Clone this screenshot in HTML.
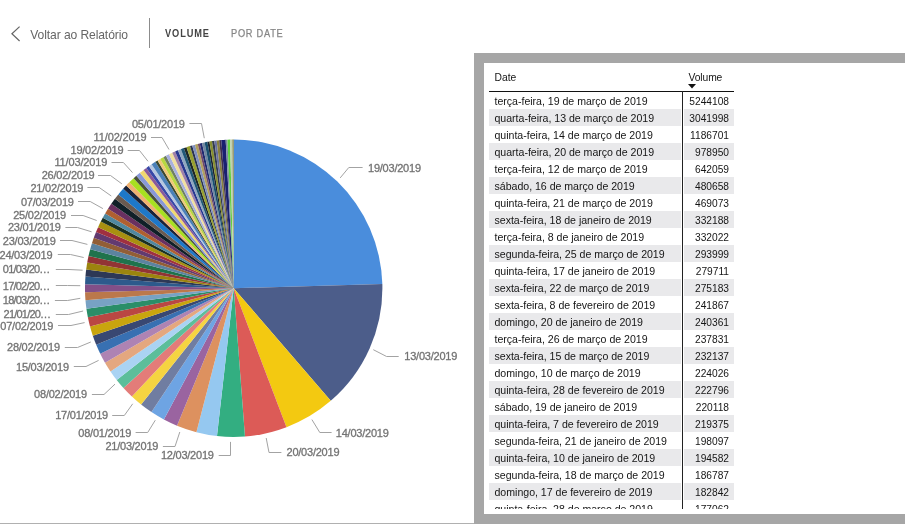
<!DOCTYPE html>
<html lang="pt-BR"><head><meta charset="utf-8"><title>Volume por Date</title>
<style>
html,body{margin:0;padding:0;background:#fff;}
body{width:905px;height:532px;overflow:hidden;position:relative;font-family:"Liberation Sans",sans-serif;}
#back{position:absolute;left:30.3px;top:25.7px;height:18px;line-height:18px;font-size:12.1px;color:#666;white-space:nowrap;letter-spacing:-0.1px;}
#chev{position:absolute;left:8px;top:22px;}
#div{position:absolute;left:149px;top:17.5px;width:1px;height:30px;background:#8c8c8c;}
#t1{position:absolute;left:165.3px;top:24.2px;height:18px;line-height:18px;font-size:10.5px;font-weight:bold;color:#444;letter-spacing:1.02px;white-space:nowrap;transform:scaleX(0.88);transform-origin:0 0;}
#t2{position:absolute;left:230.5px;top:24.2px;height:18px;line-height:18px;font-size:10.5px;color:#868686;-webkit-text-stroke:0.25px #868686;letter-spacing:0.85px;white-space:nowrap;transform:scaleX(0.88);transform-origin:0 0;}
#pie{position:absolute;left:0;top:0;}
#pie text{font-family:"Liberation Sans",sans-serif;font-size:11px;fill:#737373;stroke:#737373;stroke-width:0.3px;}
#frame{position:absolute;left:474px;top:53px;width:460px;height:470.5px;background:#a6a6a6;}
#inner{position:absolute;left:10px;top:10px;right:0;bottom:10px;background:#fff;overflow:hidden;}
#line{position:absolute;left:0;top:522.5px;width:474px;height:1px;background:#b0b0b0;}
#tbl{position:absolute;left:5px;top:0;width:245px;height:446px;overflow:hidden;font-size:10.6px;color:#151515;}
#hd{position:absolute;left:0;top:0;width:245px;height:28px;border-bottom:1px solid #111;}
#hd .d{position:absolute;left:5.5px;top:7.7px;line-height:14px;font-size:10.3px}
#hd .v{position:absolute;left:199.5px;top:7.7px;line-height:14px;font-size:10.3px;letter-spacing:-0.1px}
#arr{position:absolute;left:199.2px;top:20.8px;}
#vl{position:absolute;left:193px;top:28px;width:1px;height:420px;background:#222;}
.r{position:absolute;left:0;width:245px;height:17px;line-height:17px;white-space:nowrap;}
.r.s{background:linear-gradient(90deg,#e9e9eb 0,#e9e9eb 191.8px,#fff 191.8px,#fff 195.3px,#e9e9eb 195.3px);height:16.5px}
.r .d{position:absolute;left:5.5px;top:0.8px;letter-spacing:-0.02px}
.r .v{position:absolute;right:5px;top:0.8px;font-size:10.2px;}
</style></head><body>
<svg id="chev" width="16" height="24" viewBox="8 22 16 24"><polyline points="19.6,26.6 11.9,33.8 19.6,41" fill="none" stroke="#666" stroke-width="1.2"/></svg>
<div id="back">Voltar ao Relatório</div>
<div id="div"></div>
<div id="t1">VOLUME</div>
<div id="t2">POR DATE</div>
<svg id="pie" width="474" height="522" viewBox="0 0 474 522">
<g>
<path d="M233.70 288.20L233.70 139.50A148.7 148.7 0 0 1 382.34 284.05Z" fill="#4A8DDC"/>
<path d="M233.70 288.20L382.34 284.05A148.7 148.7 0 0 1 330.74 400.87Z" fill="#4C5D8A"/>
<path d="M233.70 288.20L330.74 400.87A148.7 148.7 0 0 1 286.49 427.21Z" fill="#F3C911"/>
<path d="M233.70 288.20L286.49 427.21A148.7 148.7 0 0 1 244.95 436.47Z" fill="#DC5B57"/>
<path d="M233.70 288.20L244.95 436.47A148.7 148.7 0 0 1 216.99 435.96Z" fill="#33AE81"/>
<path d="M233.70 288.20L216.99 435.96A148.7 148.7 0 0 1 196.40 432.14Z" fill="#95C8F0"/>
<path d="M233.70 288.20L196.40 432.14A148.7 148.7 0 0 1 177.00 425.67Z" fill="#DD915F"/>
<path d="M233.70 288.20L177.00 425.67A148.7 148.7 0 0 1 163.90 419.50Z" fill="#9A64A0"/>
<path d="M233.70 288.20L163.90 419.50A148.7 148.7 0 0 1 151.46 412.09Z" fill="#6EA4E3"/>
<path d="M233.70 288.20L151.46 412.09A148.7 148.7 0 0 1 141.10 404.55Z" fill="#707DA1"/>
<path d="M233.70 288.20L141.10 404.55A148.7 148.7 0 0 1 131.87 396.57Z" fill="#F5D441"/>
<path d="M233.70 288.20L131.87 396.57A148.7 148.7 0 0 1 123.47 388.00Z" fill="#E37C79"/>
<path d="M233.70 288.20L123.47 388.00A148.7 148.7 0 0 1 116.67 379.94Z" fill="#5CBE9A"/>
<path d="M233.70 288.20L116.67 379.94A148.7 148.7 0 0 1 110.50 371.46Z" fill="#AAD3F3"/>
<path d="M233.70 288.20L110.50 371.46A148.7 148.7 0 0 1 104.99 362.67Z" fill="#E4A77F"/>
<path d="M233.70 288.20L104.99 362.67A148.7 148.7 0 0 1 100.22 353.74Z" fill="#AE83B3"/>
<path d="M233.70 288.20L100.22 353.74A148.7 148.7 0 0 1 96.21 344.84Z" fill="#3870B2"/>
<path d="M233.70 288.20L96.21 344.84A148.7 148.7 0 0 1 92.80 335.74Z" fill="#394872"/>
<path d="M233.70 288.20L92.80 335.74A148.7 148.7 0 0 1 90.03 326.55Z" fill="#C9A50E"/>
<path d="M233.70 288.20L90.03 326.55A148.7 148.7 0 0 1 87.86 317.23Z" fill="#BA4743"/>
<path d="M233.70 288.20L87.86 317.23A148.7 148.7 0 0 1 86.42 308.71Z" fill="#2A8E68"/>
<path d="M233.70 288.20L86.42 308.71A148.7 148.7 0 0 1 85.49 300.28Z" fill="#78A2C4"/>
<path d="M233.70 288.20L85.49 300.28A148.7 148.7 0 0 1 85.05 292.14Z" fill="#BB784B"/>
<path d="M233.70 288.20L85.05 292.14A148.7 148.7 0 0 1 85.05 284.17Z" fill="#824F88"/>
<path d="M233.70 288.20L85.05 284.17A148.7 148.7 0 0 1 85.46 276.46Z" fill="#2D5A8C"/>
<path d="M233.70 288.20L85.46 276.46A148.7 148.7 0 0 1 86.17 269.56Z" fill="#2D3856"/>
<path d="M233.70 288.20L86.17 269.56A148.7 148.7 0 0 1 87.26 262.38Z" fill="#9C840E"/>
<path d="M233.70 288.20L87.26 262.38A148.7 148.7 0 0 1 88.52 256.02Z" fill="#923434"/>
<path d="M233.70 288.20L88.52 256.02A148.7 148.7 0 0 1 90.20 249.21Z" fill="#1F734C"/>
<path d="M233.70 288.20L90.20 249.21A148.7 148.7 0 0 1 91.96 243.24Z" fill="#5C83A0"/>
<path d="M233.70 288.20L91.96 243.24A148.7 148.7 0 0 1 93.79 237.83Z" fill="#925E36"/>
<path d="M233.70 288.20L93.79 237.83A148.7 148.7 0 0 1 96.02 232.02Z" fill="#623A70"/>
<path d="M233.70 288.20L96.02 232.02A148.7 148.7 0 0 1 98.07 227.24Z" fill="#A03040"/>
<path d="M233.70 288.20L98.07 227.24A148.7 148.7 0 0 1 100.74 221.62Z" fill="#A89010"/>
<path d="M233.70 288.20L100.74 221.62A148.7 148.7 0 0 1 102.77 217.70Z" fill="#1A3020"/>
<path d="M233.70 288.20L102.77 217.70A148.7 148.7 0 0 1 105.18 213.40Z" fill="#5088A0"/>
<path d="M233.70 288.20L105.18 213.40A148.7 148.7 0 0 1 108.01 208.74Z" fill="#B06030"/>
<path d="M233.70 288.20L108.01 208.74A148.7 148.7 0 0 1 111.30 203.76Z" fill="#6A3060"/>
<path d="M233.70 288.20L111.30 203.76A148.7 148.7 0 0 1 114.94 198.71Z" fill="#102028"/>
<path d="M233.70 288.20L114.94 198.71A148.7 148.7 0 0 1 118.30 194.42Z" fill="#6A5A50"/>
<path d="M233.70 288.20L118.30 194.42A148.7 148.7 0 0 1 123.19 188.70Z" fill="#1E78C8"/>
<path d="M233.70 288.20L123.19 188.70A148.7 148.7 0 0 1 126.19 185.47Z" fill="#1A2238"/>
<path d="M233.70 288.20L126.19 185.47A148.7 148.7 0 0 1 129.29 182.32Z" fill="#F0B070"/>
<path d="M233.70 288.20L129.29 182.32A148.7 148.7 0 0 1 133.62 178.22Z" fill="#A8E020"/>
<path d="M233.70 288.20L133.62 178.22A148.7 148.7 0 0 1 136.34 175.80Z" fill="#4A5238"/>
<path d="M233.70 288.20L136.34 175.80A148.7 148.7 0 0 1 139.92 172.80Z" fill="#8898D8"/>
<path d="M233.70 288.20L139.92 172.80A148.7 148.7 0 0 1 143.59 169.91Z" fill="#F0D870"/>
<path d="M233.70 288.20L143.59 169.91A148.7 148.7 0 0 1 146.30 167.90Z" fill="#8A5A9A"/>
<path d="M233.70 288.20L146.30 167.90A148.7 148.7 0 0 1 148.83 166.10Z" fill="#3848A8"/>
<path d="M233.70 288.20L148.83 166.10A148.7 148.7 0 0 1 151.63 164.20Z" fill="#B8C8E0"/>
<path d="M233.70 288.20L151.63 164.20A148.7 148.7 0 0 1 155.34 161.82Z" fill="#4A80B8"/>
<path d="M233.70 288.20L155.34 161.82A148.7 148.7 0 0 1 157.56 160.47Z" fill="#3A4830"/>
<path d="M233.70 288.20L157.56 160.47A148.7 148.7 0 0 1 160.25 158.91Z" fill="#F0C878"/>
<path d="M233.70 288.20L160.25 158.91A148.7 148.7 0 0 1 163.43 157.15Z" fill="#B8D840"/>
<path d="M233.70 288.20L163.43 157.15A148.7 148.7 0 0 1 165.96 155.83Z" fill="#708060"/>
<path d="M233.70 288.20L165.96 155.83A148.7 148.7 0 0 1 168.98 154.32Z" fill="#A8B0E0"/>
<path d="M233.70 288.20L168.98 154.32A148.7 148.7 0 0 1 172.27 152.78Z" fill="#F0E0A0"/>
<path d="M233.70 288.20L172.27 152.78A148.7 148.7 0 0 1 175.12 151.52Z" fill="#A080A8"/>
<path d="M233.70 288.20L175.12 151.52A148.7 148.7 0 0 1 178.00 150.33Z" fill="#283890"/>
<path d="M233.70 288.20L178.00 150.33A148.7 148.7 0 0 1 180.90 149.19Z" fill="#90A8C0"/>
<path d="M233.70 288.20L180.90 149.19A148.7 148.7 0 0 1 183.82 148.12Z" fill="#205878"/>
<path d="M233.70 288.20L183.82 148.12A148.7 148.7 0 0 1 186.52 147.18Z" fill="#1C2626"/>
<path d="M233.70 288.20L186.52 147.18A148.7 148.7 0 0 1 189.98 146.07Z" fill="#98A030"/>
<path d="M233.70 288.20L189.98 146.07A148.7 148.7 0 0 1 192.21 145.40Z" fill="#2A3350"/>
<path d="M233.70 288.20L192.21 145.40A148.7 148.7 0 0 1 194.96 144.63Z" fill="#8090C0"/>
<path d="M233.70 288.20L194.96 144.63A148.7 148.7 0 0 1 197.73 143.92Z" fill="#B0A060"/>
<path d="M233.70 288.20L197.73 143.92A148.7 148.7 0 0 1 199.74 143.43Z" fill="#704868"/>
<path d="M233.70 288.20L199.74 143.43A148.7 148.7 0 0 1 202.02 142.91Z" fill="#202870"/>
<path d="M233.70 288.20L202.02 142.91A148.7 148.7 0 0 1 204.56 142.38Z" fill="#7088A0"/>
<path d="M233.70 288.20L204.56 142.38A148.7 148.7 0 0 1 207.37 141.85Z" fill="#185070"/>
<path d="M233.70 288.20L207.37 141.85A148.7 148.7 0 0 1 209.41 141.50Z" fill="#1C2430"/>
<path d="M233.70 288.20L209.41 141.50A148.7 148.7 0 0 1 211.98 141.10Z" fill="#889030"/>
<path d="M233.70 288.20L211.98 141.10A148.7 148.7 0 0 1 214.29 140.77Z" fill="#343C4C"/>
<path d="M233.70 288.20L214.29 140.77A148.7 148.7 0 0 1 216.61 140.49Z" fill="#6870A0"/>
<path d="M233.70 288.20L216.61 140.49A148.7 148.7 0 0 1 219.19 140.21Z" fill="#888040"/>
<path d="M233.70 288.20L219.19 140.21A148.7 148.7 0 0 1 221.26 140.02Z" fill="#403050"/>
<path d="M233.70 288.20L221.26 140.02A148.7 148.7 0 0 1 225.66 139.72Z" fill="#1A2070"/>
<path d="M233.70 288.20L225.66 139.72A148.7 148.7 0 0 1 227.47 139.63Z" fill="#8090A0"/>
<path d="M233.70 288.20L227.47 139.63A148.7 148.7 0 0 1 230.07 139.54Z" fill="#60D040"/>
<path d="M233.70 288.20L230.07 139.54A148.7 148.7 0 0 1 232.40 139.51Z" fill="#C0D0B0"/>
<path d="M233.70 288.20L232.40 139.51A148.7 148.7 0 0 1 233.70 139.50Z" fill="#808040"/>
</g>
<g>
<polyline points="340.2,177.9 348.8,167.5 362.6,167.5" fill="none" stroke="#a3a3a3" stroke-width="1"/>
<text x="368.0" y="171.7" textLength="53.0" lengthAdjust="spacing">19/03/2019</text>
<polyline points="373.3,349.7 386.6,356.5 398.7,356.5" fill="none" stroke="#a3a3a3" stroke-width="1"/>
<text x="404.3" y="360.2" textLength="53.0" lengthAdjust="spacing">13/03/2019</text>
<polyline points="311.9,419.6 319.8,432.5 331.6,432.5" fill="none" stroke="#a3a3a3" stroke-width="1"/>
<text x="335.8" y="436.9" textLength="53.0" lengthAdjust="spacing">14/03/2019</text>
<polyline points="266.2,438.0 269.0,452.5 281.4,452.5" fill="none" stroke="#a3a3a3" stroke-width="1"/>
<text x="286.5" y="456.0" textLength="53.0" lengthAdjust="spacing">20/03/2019</text>
<polyline points="230.5,441.9 230.5,455.5 218.7,455.5" fill="none" stroke="#a3a3a3" stroke-width="1"/>
<text x="160.9" y="459.4" textLength="53.0" lengthAdjust="spacing">12/03/2019</text>
<polyline points="179.8,432.0 175.0,446.5 162.9,446.5" fill="none" stroke="#a3a3a3" stroke-width="1"/>
<text x="105.4" y="450.1" textLength="53.0" lengthAdjust="spacing">21/03/2019</text>
<polyline points="155.3,420.2 147.7,432.5 135.6,432.5" fill="none" stroke="#a3a3a3" stroke-width="1"/>
<text x="78.3" y="436.6" textLength="53.0" lengthAdjust="spacing">08/01/2019</text>
<polyline points="132.7,403.8 124.3,415.5 112.2,415.5" fill="none" stroke="#a3a3a3" stroke-width="1"/>
<text x="55.2" y="419.1" textLength="53.0" lengthAdjust="spacing">17/01/2019</text>
<polyline points="115.0,384.1 104.0,394.5 91.9,394.5" fill="none" stroke="#a3a3a3" stroke-width="1"/>
<text x="34.1" y="398.0" textLength="53.0" lengthAdjust="spacing">08/02/2019</text>
<polyline points="98.6,360.4 86.0,366.5 73.8,366.5" fill="none" stroke="#a3a3a3" stroke-width="1"/>
<text x="16.0" y="370.8" textLength="53.0" lengthAdjust="spacing">15/03/2019</text>
<polyline points="90.8,342.0 77.5,347.5 64.8,347.5" fill="none" stroke="#a3a3a3" stroke-width="1"/>
<text x="7.0" y="351.1" textLength="53.0" lengthAdjust="spacing">28/02/2019</text>
<polyline points="84.6,322.6 71.0,325.5 58.0,325.5" fill="none" stroke="#a3a3a3" stroke-width="1"/>
<text x="0.3" y="329.6" textLength="53.0" lengthAdjust="spacing">07/02/2019</text>
<polyline points="83.1,311.0 68.5,314.5 55.8,314.5" fill="none" stroke="#a3a3a3" stroke-width="1"/>
<text x="3.6" y="318.1" textLength="47.5" lengthAdjust="spacing">21/01/20…</text>
<polyline points="80.3,298.3 67.6,300.5 54.9,300.5" fill="none" stroke="#a3a3a3" stroke-width="1"/>
<text x="2.8" y="304.0" textLength="47.5" lengthAdjust="spacing">18/03/20…</text>
<polyline points="80.3,285.7 67.6,285.5 55.8,285.5" fill="none" stroke="#a3a3a3" stroke-width="1"/>
<text x="2.8" y="289.7" textLength="47.5" lengthAdjust="spacing">17/02/20…</text>
<polyline points="82.6,270.2 69.0,269.5 55.8,269.5" fill="none" stroke="#a3a3a3" stroke-width="1"/>
<text x="2.8" y="273.0" textLength="47.5" lengthAdjust="spacing">01/03/20…</text>
<polyline points="83.7,257.5 70.5,254.5 57.8,254.5" fill="none" stroke="#a3a3a3" stroke-width="1"/>
<text x="-0.5" y="258.9" textLength="53.0" lengthAdjust="spacing">24/03/2019</text>
<polyline points="87.4,244.4 72.0,240.5 60.0,240.5" fill="none" stroke="#a3a3a3" stroke-width="1"/>
<text x="2.8" y="244.8" textLength="53.0" lengthAdjust="spacing">23/03/2019</text>
<polyline points="91.6,231.8 77.5,227.5 65.4,227.5" fill="none" stroke="#a3a3a3" stroke-width="1"/>
<text x="7.9" y="231.0" textLength="53.0" lengthAdjust="spacing">23/01/2019</text>
<polyline points="96.7,220.5 83.1,215.5 71.0,215.5" fill="none" stroke="#a3a3a3" stroke-width="1"/>
<text x="13.2" y="219.1" textLength="53.0" lengthAdjust="spacing">25/02/2019</text>
<polyline points="102.9,208.6 90.2,201.5 78.0,201.5" fill="none" stroke="#a3a3a3" stroke-width="1"/>
<text x="20.9" y="205.9" textLength="53.0" lengthAdjust="spacing">07/03/2019</text>
<polyline points="111.3,196.0 99.2,187.5 87.4,187.5" fill="none" stroke="#a3a3a3" stroke-width="1"/>
<text x="30.4" y="191.5" textLength="53.0" lengthAdjust="spacing">21/02/2019</text>
<polyline points="121.8,183.8 110.5,175.5 98.0,175.5" fill="none" stroke="#a3a3a3" stroke-width="1"/>
<text x="41.7" y="179.1" textLength="53.0" lengthAdjust="spacing">26/02/2019</text>
<polyline points="132.5,172.6 123.4,162.5 111.5,162.5" fill="none" stroke="#a3a3a3" stroke-width="1"/>
<text x="54.4" y="166.1" textLength="53.0" lengthAdjust="spacing">11/03/2019</text>
<polyline points="148.0,161.3 139.5,150.5 127.7,150.5" fill="none" stroke="#a3a3a3" stroke-width="1"/>
<text x="70.5" y="154.3" textLength="53.0" lengthAdjust="spacing">19/02/2019</text>
<polyline points="169.0,149.5 162.0,137.5 151.0,137.5" fill="none" stroke="#a3a3a3" stroke-width="1"/>
<text x="93.6" y="141.0" textLength="53.0" lengthAdjust="spacing">11/02/2019</text>
<polyline points="204.3,138.2 201.5,123.5 189.4,123.5" fill="none" stroke="#a3a3a3" stroke-width="1"/>
<text x="131.9" y="127.5" textLength="53.0" lengthAdjust="spacing">05/01/2019</text>
</g>
</svg>
<div id="line"></div>
<div id="frame"><div id="inner">
<div id="tbl">
<div id="hd"><span class="d">Date</span><span class="v">Volume</span><svg id="arr" width="9" height="5" viewBox="0 0 9 5"><polygon points="0,0 8,0 4,4.4" fill="#111"/></svg></div>
<div style="top:29.2px" class="r"><span class="d">terça-feira, 19 de março de 2019</span><span class="v">5244108</span></div>
<div style="top:46.2px" class="r s"><span class="d">quarta-feira, 13 de março de 2019</span><span class="v">3041998</span></div>
<div style="top:63.2px" class="r"><span class="d">quinta-feira, 14 de março de 2019</span><span class="v">1186701</span></div>
<div style="top:80.2px" class="r s"><span class="d">quarta-feira, 20 de março de 2019</span><span class="v">978950</span></div>
<div style="top:97.2px" class="r"><span class="d">terça-feira, 12 de março de 2019</span><span class="v">642059</span></div>
<div style="top:114.2px" class="r s"><span class="d">sábado, 16 de março de 2019</span><span class="v">480658</span></div>
<div style="top:131.2px" class="r"><span class="d">quinta-feira, 21 de março de 2019</span><span class="v">469073</span></div>
<div style="top:148.2px" class="r s"><span class="d">sexta-feira, 18 de janeiro de 2019</span><span class="v">332188</span></div>
<div style="top:165.2px" class="r"><span class="d">terça-feira, 8 de janeiro de 2019</span><span class="v">332022</span></div>
<div style="top:182.2px" class="r s"><span class="d">segunda-feira, 25 de março de 2019</span><span class="v">293999</span></div>
<div style="top:199.2px" class="r"><span class="d">quinta-feira, 17 de janeiro de 2019</span><span class="v">279711</span></div>
<div style="top:216.2px" class="r s"><span class="d">sexta-feira, 22 de março de 2019</span><span class="v">275183</span></div>
<div style="top:233.2px" class="r"><span class="d">sexta-feira, 8 de fevereiro de 2019</span><span class="v">241867</span></div>
<div style="top:250.2px" class="r s"><span class="d">domingo, 20 de janeiro de 2019</span><span class="v">240361</span></div>
<div style="top:267.2px" class="r"><span class="d">terça-feira, 26 de março de 2019</span><span class="v">237831</span></div>
<div style="top:284.2px" class="r s"><span class="d">sexta-feira, 15 de março de 2019</span><span class="v">232137</span></div>
<div style="top:301.2px" class="r"><span class="d">domingo, 10 de março de 2019</span><span class="v">224026</span></div>
<div style="top:318.2px" class="r s"><span class="d">quinta-feira, 28 de fevereiro de 2019</span><span class="v">222796</span></div>
<div style="top:335.2px" class="r"><span class="d">sábado, 19 de janeiro de 2019</span><span class="v">220118</span></div>
<div style="top:352.2px" class="r s"><span class="d">quinta-feira, 7 de fevereiro de 2019</span><span class="v">219375</span></div>
<div style="top:369.2px" class="r"><span class="d">segunda-feira, 21 de janeiro de 2019</span><span class="v">198097</span></div>
<div style="top:386.2px" class="r s"><span class="d">quinta-feira, 10 de janeiro de 2019</span><span class="v">194582</span></div>
<div style="top:403.2px" class="r"><span class="d">segunda-feira, 18 de março de 2019</span><span class="v">186787</span></div>
<div style="top:420.2px" class="r s"><span class="d">domingo, 17 de fevereiro de 2019</span><span class="v">182842</span></div>
<div style="top:437.2px" class="r"><span class="d">quinta-feira, 28 de março de 2019</span><span class="v">177062</span></div>
<div id="vl"></div>
</div>
</div></div>
</body></html>
